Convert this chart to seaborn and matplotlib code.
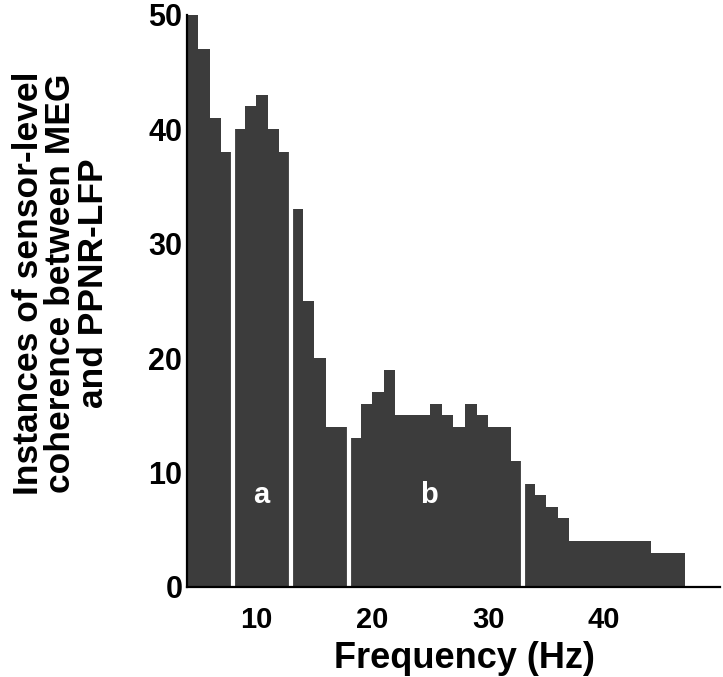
import numpy as np
import matplotlib
matplotlib.use('Agg')
import matplotlib.pyplot as plt
import seaborn as sns

# frequency bins (Hz, left edge) and number of instances per bin
freqs = list(range(4, 47))
counts = [50, 47, 41, 38,             # 4-7
          40, 42, 43, 40, 38,         # 8-12  (a)
          33, 25, 20, 14, 14,         # 13-17
          13, 16, 17, 19, 15, 15, 15, 16, 15, 14, 16, 15, 14, 14, 11,  # 18-32 (b)
          9, 8, 7, 6, 4, 4, 4, 4, 4, 4, 4, 3, 3, 3]                    # 33-46

band_edges = [8, 13, 18, 33]
band_labels = ['a', 'b']
band_label_x = [10.4, 24.9]
band_label_y = 8

sns.set_style('white')
plt.rcParams['font.family'] = ['Liberation Sans', 'DejaVu Sans']
plt.rcParams['font.weight'] = 'bold'
for k in ['text.color', 'axes.labelcolor', 'xtick.color', 'ytick.color']:
    plt.rcParams[k] = 'black'

fig = plt.figure(figsize=(7.23, 6.77), dpi=100)
ax = fig.add_axes([0.258, 0.133, 0.738, 0.845])

sns.histplot(x=freqs, weights=counts, binwidth=1, binrange=(4, 47),
             element='step', fill=True, color='#3c3c3c', alpha=1,
             linewidth=0, ax=ax)

for e in band_edges:
    ax.axvline(e, color='white', lw=3, zorder=3)

for lab, lx in zip(band_labels, band_label_x):
    ax.text(lx, band_label_y, lab, color='white', fontsize=21,
            fontweight='bold', ha='center', va='center', zorder=4)

ax.set_xlim(4, 50)
ax.set_ylim(0, 50)
ax.set_xticks([10, 20, 30, 40])
ax.set_yticks([0, 10, 20, 30, 40, 50])
ax.tick_params(axis='x', length=0, pad=14, labelsize=21)
ax.tick_params(axis='y', length=0, pad=3, labelsize=22)

for s in ['top', 'right']:
    ax.spines[s].set_visible(False)
for s in ['left', 'bottom']:
    ax.spines[s].set_color('black')
    ax.spines[s].set_linewidth(1.6)
    ax.spines[s].set_zorder(5)

ax.set_xlabel('Frequency (Hz)', fontsize=26, fontweight='bold')
ax.xaxis.set_label_coords(0.52, -0.094)
ax.xaxis.label.set_va('top')

ax.set_ylabel('Instances of sensor-level\ncoherence between MEG\nand PPNR-LFP',
              fontsize=25.5, fontweight='bold', linespacing=0.98,
              multialignment='center')
ax.yaxis.set_label_coords(-0.236, 0.531)
ax.yaxis.label.set_va('center')

fig.savefig('out.png', dpi=100)
